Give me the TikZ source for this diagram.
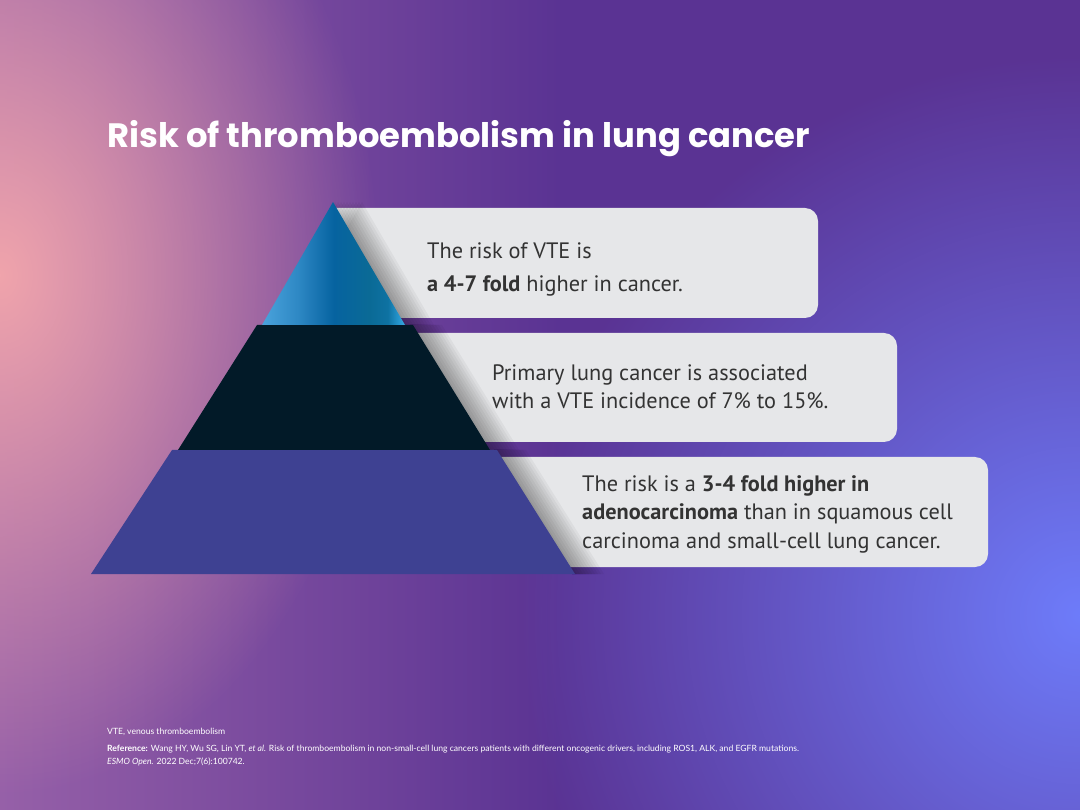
\documentclass[tikz,border=0pt]{standalone}
\usepackage{fontspec}
\setmainfont{PT Sans}
\newfontfamily\titlefont{Poppins}
\newfontfamily\footfont{Lato}
\usetikzlibrary{fadings}
\definecolor{bgbase}{HTML}{5A3393}
\definecolor{bgleft}{HTML}{9660A8}
\definecolor{glowpink}{HTML}{F0A4AC}
\definecolor{glowblue}{HTML}{6E7CFA}
\definecolor{boxgrey}{HTML}{E6E7E9}
\definecolor{tierdark}{HTML}{021A28}
\definecolor{tierlow}{HTML}{3E4192}
\definecolor{textgrey}{HTML}{333333}
\definecolor{tipA}{HTML}{4AA3DC}
\definecolor{tipB}{HTML}{2E88C4}
\definecolor{tipC}{HTML}{0663A0}
\definecolor{tipD}{HTML}{0A6A96}
\definecolor{tipE}{HTML}{0E72A2}
\definecolor{tipF}{HTML}{2494CC}
\definecolor{tipG}{HTML}{3AA9E0}
\pgfdeclarehorizontalshading{tipshade}{100bp}{color(0bp)=(tipA); color(25bp)=(tipA); color(37.5bp)=(tipB); color(50bp)=(tipC); color(62.5bp)=(tipD); color(69bp)=(tipE); color(72.5bp)=(tipF); color(75bp)=(tipG); color(100bp)=(tipG)}
\tikzfading[name=glowfade, inner color=transparent!0, outer color=transparent!100]
\tikzset{
  infobox/.style={fill=boxgrey, rounded corners=13pt},
  boxtext/.style={inner sep=0pt, anchor=base west, text=textgrey, font=\fontsize{22.3}{26}\selectfont},
  foot/.style={inner sep=0pt, anchor=base west, text=white, font=\footfont\fontsize{8.6}{10}\selectfont},
  shadowcopy/.style={fill=black, opacity=0.04}
}
\begin{document}
\begin{tikzpicture}[x=1pt,y=-1pt]
\useasboundingbox (0,0) rectangle (1080,810);
% background
\begin{scope}
\clip (0,0) rectangle (1080,810);
\fill[bgbase] (0,0) rectangle (1080,810);
\shade[left color=bgleft, right color=bgbase] (0,0) rectangle (560,810);
\fill[glowpink, path fading=glowfade] (0,275) ellipse [x radius=380, y radius=520];
\fill[glowblue, path fading=glowfade] (1080,615) circle (560);
\end{scope}
% box 1 (left part hidden behind the top tier)
\begin{scope}
\clip (324,190) -- (1080,190) -- (1080,330) -- (405.4,330) -- cycle;
\path[infobox] (300,208) rectangle (818,318);
\foreach \s in {2,5,...,29}
  \fill[shadowcopy, xshift=\s pt] (333,202) -- (405,325) -- (262,325) -- cycle;
\end{scope}
% box 2
\begin{scope}
\clip (410,325) -- (1080,325) -- (1080,450) -- (487,450) -- cycle;
\path[infobox] (300,333) rectangle (897,442);
\foreach \s in {2,5,...,29}
  \fill[shadowcopy, xshift=\s pt] (257,325) -- (413,325) -- (490,450) -- (178,450) -- cycle;
\end{scope}
% box 3
\begin{scope}
\clip (494,450) -- (1080,450) -- (1080,574) -- (572,574) -- cycle;
\path[infobox] (300,457) rectangle (988,567);
\foreach \s in {2,5,...,29}
  \fill[shadowcopy, xshift=\s pt] (172,450) -- (497,450) -- (575,574) -- (91,574) -- cycle;
\end{scope}
% pyramid
\fill[tierlow] (172,450) -- (497,450) -- (575,574) -- (91,574) -- cycle;
\fill[tierdark] (257,325) -- (413,325) -- (490,450) -- (178,450) -- cycle;
\shade[shading=tipshade] (333,202) -- (405,325) -- (262,325) -- cycle;
% title
\node[inner sep=0pt, anchor=base west, text=white, font=\titlefont\bfseries\fontsize{33.8}{40}\selectfont] (title) at (107,148) {Risk of thromboembolism in lung cancer};
% box texts
\node[boxtext] (t1a) at (427,259) {The risk of VTE is};
\node[boxtext] (t1b) at (427,292) {\textbf{a 4-7 fold} higher in cancer.};
\node[boxtext] (t2a) at (492,381) {Primary lung cancer is associated};
\node[boxtext] (t2b) at (492,409) {with a VTE incidence of 7\% to 15\%.};
\node[boxtext] (t3a) at (582,491) {The risk is a \textbf{3-4 fold higher in}};
\node[boxtext] (t3b) at (582,519) {\textbf{adenocarcinoma} than in squamous cell};
\node[boxtext] (t3c) at (582,548) {carcinoma and small-cell lung cancer.};
% footer
\node[foot] (abbr) at (107,734) {VTE, venous thromboembolism};
\node[foot] (ref) at (107,751) {\textbf{Reference:} Wang HY, Wu SG, Lin YT, \textit{et al.} Risk of thromboembolism in non-small-cell lung cancers patients with different oncogenic drivers, including ROS1, ALK, and EGFR mutations.};
\node[foot] (journal) at (107,764) {\textit{ESMO Open.} 2022 Dec;7(6):100742.};
\end{tikzpicture}
\end{document}
